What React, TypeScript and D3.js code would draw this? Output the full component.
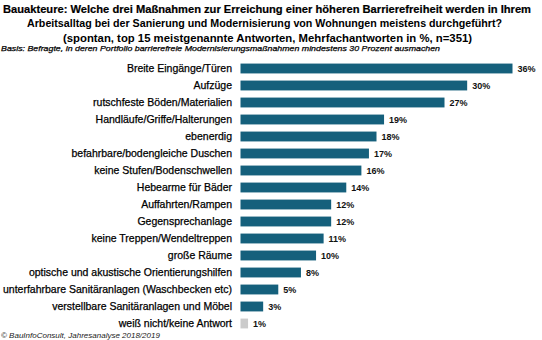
import React from "react";
import * as d3 from "d3";

const categories = [
  "Breite Eingänge/Türen",
  "Aufzüge",
  "rutschfeste Böden/Materialien",
  "Handläufe/Griffe/Halterungen",
  "ebenerdig",
  "befahrbare/bodengleiche Duschen",
  "keine Stufen/Bodenschwellen",
  "Hebearme für Bäder",
  "Auffahrten/Rampen",
  "Gegensprechanlage",
  "keine Treppen/Wendeltreppen",
  "große Räume",
  "optische und akustische Orientierungshilfen",
  "unterfahrbare Sanitäranlagen (Waschbecken etc)",
  "verstellbare Sanitäranlagen und Möbel",
  "weiß nicht/keine Antwort",
];
const values = [36, 30, 27, 19, 18, 17, 16, 14, 12, 12, 11, 10, 8, 5, 3, 1];
const valueLabels = values.map((v) => `${v}%`);
const neutralCategory = "weiß nicht/keine Antwort";

const titleLines = [
  "Bauakteure: Welche drei Maßnahmen zur Erreichung einer höheren Barrierefreiheit werden in Ihrem",
  "Arbeitsalltag bei der Sanierung und Modernisierung von Wohnungen meistens durchgeführt?",
  "(spontan, top 15 meistgenannte Antworten, Mehrfachantworten in %, n=351)",
];
const basisText =
  "Basis: Befragte, in deren Portfolio barrierefreie Modernisierungsmaßnahmen mindestens 30 Prozent ausmachen";
const footerText = "© BauInfoConsult, Jahresanalyse 2018/2019";

export default function App() {
  const W = 542;
  const H = 340;
  const x0 = 240.5;
  const x = d3.scaleLinear().domain([0, 36]).range([x0, 512.5]);
  const y = d3
    .scaleBand()
    .domain(categories)
    .range([60, 332])
    .paddingInner(0.42)
    .paddingOuter(0.21);

  const font = "Liberation Sans, Arial, sans-serif";

  return (
    <svg
      width={W}
      height={H}
      style={{ position: "absolute", left: 0, top: 0, background: "#fff" }}
      fontFamily={font}
    >
      <text
        x={3}
        y={13}
        fontSize={11}
        fontWeight="bold"
        textLength={528}
        lengthAdjust="spacingAndGlyphs"
        stroke="#000"
        strokeWidth={0.2}
      >
        {titleLines[0]}
      </text>
      <text
        x={27}
        y={27}
        fontSize={11.5}
        fontWeight="bold"
        textLength={475}
        lengthAdjust="spacingAndGlyphs"
      >
        {titleLines[1]}
      </text>
      <text
        x={63}
        y={41.5}
        fontSize={11.5}
        fontWeight="bold"
        textLength={409}
        lengthAdjust="spacingAndGlyphs"
      >
        {titleLines[2]}
      </text>
      <text
        x={1}
        y={50.5}
        fontSize={8}
        fontStyle="italic"
        textLength={439}
        lengthAdjust="spacingAndGlyphs"
        stroke="#000"
        strokeWidth={0.25}
      >
        {basisText}
      </text>

      {categories.map((c, i) => {
        const yy = y(c)!;
        const bh = y.bandwidth();
        const neutral = c === neutralCategory;
        return (
          <g key={c}>
            <text
              x={232}
              y={yy + bh / 2}
              dy="0.35em"
              textAnchor="end"
              fontSize={10.5}
              fill="#000"
              stroke="#000"
              strokeWidth={0.25}
            >
              {c}
            </text>
            <rect
              x={x(0)}
              y={yy}
              width={x(values[i]) - x(0)}
              height={bh}
              fill={neutral ? "#cbcbcb" : "#15607c"}
            />
            <text
              x={x(values[i]) + 5}
              y={yy + bh / 2}
              dy="0.35em"
              fontSize={9}
              fontWeight="bold"
              fill="#111"
            >
              {valueLabels[i]}
            </text>
          </g>
        );
      })}

      <text x={1} y={337.5} fontSize={8} fontStyle="italic" fill="#222">
        {footerText}
      </text>
    </svg>
  );
}
